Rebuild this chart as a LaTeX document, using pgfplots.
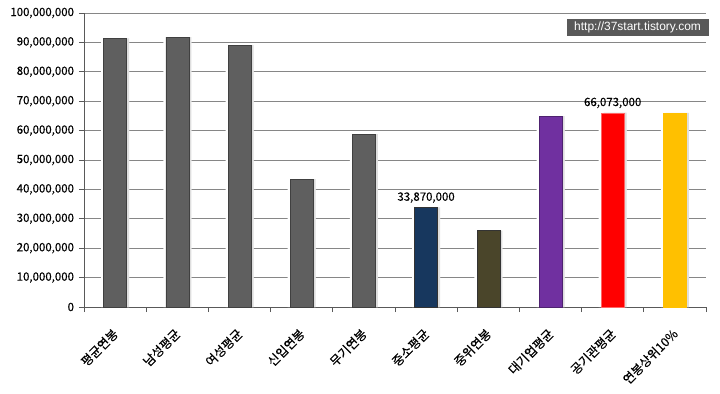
\documentclass[border=0pt]{standalone}
\usepackage{fontspec}
\setmainfont{Noto Sans CJK KR}
\newfontfamily\nf[FakeBold=0.3]{Noto Sans CJK KR}
\newfontfamily\wm{Liberation Sans}
\usepackage{pgfplots}
\pgfplotsset{compat=1.18}
\definecolor{gridc}{HTML}{868686}
\definecolor{barg}{HTML}{5F5F5F}
\definecolor{navy}{HTML}{17375E}
\definecolor{olive}{HTML}{4A452A}
\definecolor{purp}{HTML}{7030A0}
\definecolor{yel}{HTML}{FFC000}
\definecolor{wmg}{HTML}{595959}
\pgfplotstableread{
x y
0 91400000
1 91800000
2 89100000
3 43500000
4 58800000
5 33870000
6 26000000
7 64900000
8 66073000
9 66000000
}\alldata
\begin{document}
\begin{tikzpicture}
\path[use as bounding box] (0,0) rectangle (720bp,394bp);
\begin{axis}[
  at={(84bp,87bp)}, anchor=south west,
  scale only axis, width=622bp, height=294bp,
  xmin=-0.5, xmax=9.5, ymin=0, ymax=100000000,
  axis x line=bottom, axis y line=left,
  axis line style={-, draw=black!65, line width=0.8bp},
  ytick={0,10000000,20000000,30000000,40000000,50000000,60000000,70000000,80000000,90000000,100000000},
  scaled y ticks=false,
  ymajorgrids, grid style={draw=gridc, line width=0.8bp},
  tick align=outside, major tick length=5bp,
  tick style={draw=black!65, line width=0.8bp},
  yticklabel style={font=\nf\fontsize{11.5}{12}\selectfont, xshift=-1.5bp, /pgf/number format/.cd, fixed, precision=0, 1000 sep={,}, assume math mode=true},
  xtick={-0.5,0.5,1.5,2.5,3.5,4.5,5.5,6.5,7.5,8.5,9.5},
  xticklabels={},
  extra x ticks={0,1,2,3,4,5,6,7,8,9},
  extra x tick labels={평균연봉,남성평균,여성평균,신입연봉,무기연봉,중소평균,중위연봉,대기업평균,공기관평균,연봉상위10\%},
  extra x tick style={major tick length=0pt, grid=none,
    xticklabel style={xshift=3bp, yshift=-22bp, rotate=45, anchor=east, font=\nf\fontsize{12.5}{13}\selectfont}},
  clip=false,
]
% halo and soft shadow behind bars
\addplot[ybar, bar width=28bp, bar shift=0pt, fill=white, draw=none] table[x=x, y=y] {\alldata};
\addplot[ybar, bar width=23bp, bar shift=2.5bp, fill=black!13, draw=none] table[x=x, y=y] {\alldata};
\addplot[ybar, bar width=23bp, bar shift=0pt, fill=barg, draw=black!75] coordinates {(0,91400000) (1,91800000) (2,89100000) (3,43500000) (4,58800000)};
\addplot[ybar, bar width=23bp, bar shift=0pt, fill=navy, draw=black!80, nodes near coords, point meta=explicit symbolic,
  every node near coord/.append style={font=\nf\fontsize{11.5}{12}\selectfont, yshift=1bp}] coordinates {(5,33870000) [33,870,000]};
\addplot[ybar, bar width=23bp, bar shift=0pt, fill=olive, draw=black!80] coordinates {(6,26000000)};
\addplot[ybar, bar width=23bp, bar shift=0pt, fill=purp, draw=purp!70!black] coordinates {(7,64900000)};
\addplot[ybar, bar width=23bp, bar shift=0pt, fill=red, draw=red!60!white, nodes near coords, point meta=explicit symbolic,
  every node near coord/.append style={font=\nf\fontsize{11.5}{12}\selectfont, yshift=1bp}] coordinates {(8,66073000) [66,073,000]};
\addplot[ybar, bar width=23bp, bar shift=0pt, fill=yel, draw=yel] coordinates {(9,66000000)};
\node[fill=wmg, text=white, minimum width=142bp, minimum height=17bp, inner sep=0pt, font=\wm\fontsize{12}{13}\selectfont] at (rel axis cs:0.89,0.951) {http://37start.tistory.com};
\end{axis}
\end{tikzpicture}
\end{document}
